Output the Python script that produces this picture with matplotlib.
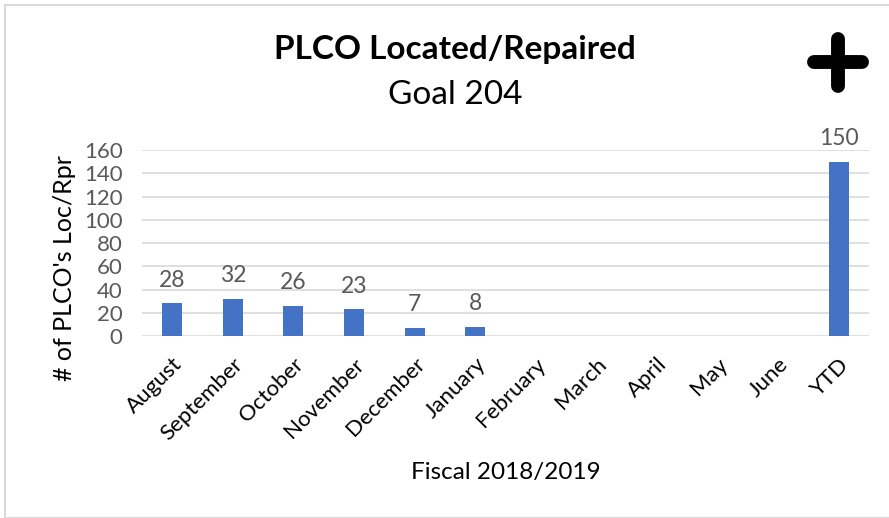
import matplotlib
matplotlib.use('Agg')
import matplotlib.pyplot as plt
from matplotlib.patches import Rectangle
from matplotlib.lines import Line2D

months = ['August', 'September', 'October', 'November', 'December', 'January',
          'February', 'March', 'April', 'May', 'June', 'YTD']
counts = [28, 32, 26, 23, 7, 8, 0, 0, 0, 0, 0, 150]
labels = ['28', '32', '26', '23', '7', '8', '', '', '', '', '', '150']
yticks = [0, 20, 40, 60, 80, 100, 120, 140, 160]

plt.rcParams['font.family'] = ['Lato', 'DejaVu Sans']

W, H = 889, 518
fig = plt.figure(figsize=(W / 100, H / 100), dpi=100)

# light frame around the chart
fig.patches.append(Rectangle((5 / W, 0), 1, 1 - 5 / H, transform=fig.transFigure,
                             fill=False, edgecolor='#d9d9d9', linewidth=1.5))

ax = fig.add_axes([142 / W, 1 - 336 / H, (869 - 142) / W, (336 - 150) / H])
x = range(len(months))
bars = ax.bar(x, counts, width=0.33, color='#4472C4', zorder=3)
ax.bar_label(bars, labels=labels, padding=9, fontsize=16.5, color='#595959')

ax.set_xlim(-0.5, len(months) - 0.5)
ax.set_ylim(0, 160)
ax.set_yticks(yticks)
ax.set_xticks(list(x))
ax.set_xticklabels(months, rotation=45, ha='right', rotation_mode='anchor')
ax.tick_params(axis='y', length=0, labelsize=16, labelcolor='#595959', pad=14)
ax.tick_params(axis='x', length=0, labelsize=16, labelcolor='black', pad=13)
ax.grid(axis='y', color='#d9d9d9', linewidth=1.2, zorder=0)
for s in ax.spines.values():
    s.set_visible(False)

fig.text(64 / W, 1 - 268 / H, "# of PLCO's Loc/Rpr", fontsize=18,
         rotation=90, ha='center', va='center')
fig.text(506 / W, 1 - 473 / H, 'Fiscal 2018/2019', fontsize=17.5,
         ha='center', va='center')

fig.text(455 / W, 1 - 50 / H, 'PLCO Located/Repaired', fontsize=24,
         fontweight='bold', ha='center', va='center')
fig.text(455 / W, 1 - 95 / H, 'Goal 204', fontsize=24, ha='center', va='center')

# plus sign in the top right corner
for xs, ys in [((814, 862), (62, 62)), ((838, 838), (39, 86))]:
    fig.add_artist(Line2D([v / W for v in xs], [1 - v / H for v in ys],
                          transform=fig.transFigure, color='black',
                          linewidth=10, solid_capstyle='round'))

fig.savefig('out.png', dpi=100)
